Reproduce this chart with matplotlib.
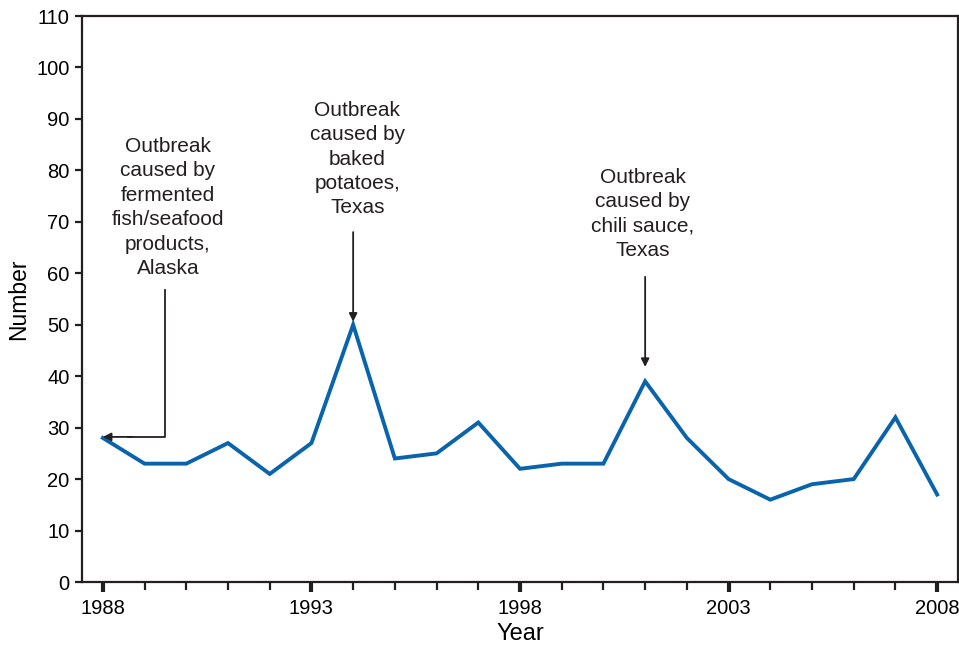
import matplotlib
matplotlib.use("Agg")
import matplotlib.pyplot as plt
from matplotlib.ticker import MultipleLocator

years = list(range(1988, 2009))
counts = [28, 23, 23, 27, 21, 27, 50, 24, 25, 31, 22, 23, 23, 39, 28, 20, 16, 19, 20, 32, 17]
major_years = [1988, 1993, 1998, 2003, 2008]
y_ticks = list(range(0, 111, 10))

plt.rcParams['font.family'] = ['Liberation Sans', 'DejaVu Sans']

fig = plt.figure(figsize=(9.59, 6.48), dpi=100)
ax = fig.add_axes([82/959, 66/648, 876/959, 566/648])

ax.plot(years, counts, color='#0a64ac', lw=2.8, solid_joinstyle='miter')

ax.set_xlim(1987.5, 2008.5)
ax.set_ylim(0, 110)
ax.set_xticks(major_years)
ax.xaxis.set_minor_locator(MultipleLocator(1))
ax.set_yticks(y_ticks)

for s in ax.spines.values():
    s.set_linewidth(1.6)
    s.set_color('#231f20')

ax.tick_params(axis='x', which='major', length=7, width=3, labelsize=14.5, color='#231f20', pad=5)
ax.tick_params(axis='x', which='minor', length=6, width=1.6, color='#231f20')
ax.tick_params(axis='y', which='major', length=5, width=1.6, labelsize=14.5, color='#231f20', pad=4)

ax.set_xlabel('Year', fontsize=17, labelpad=4)
ax.set_ylabel('Number', fontsize=16.5, labelpad=4)

akw = dict(ha='center', va='center', fontsize=15, linespacing=1.36, color='#231f20')
ax.text(1989.56, 72.8, 'Outbreak\ncaused by\nfermented\nfish/seafood\nproducts,\nAlaska', **akw)
ax.text(1994.1, 82.2, 'Outbreak\ncaused by\nbaked\npotatoes,\nTexas', **akw)
ax.text(2000.95, 71.5, 'Outbreak\ncaused by\nchili sauce,\nTexas', **akw)

# Alaska elbow arrow
ax.plot([1989.49, 1989.49, 1988.6], [56.7, 28.2, 28.2], color='#231f20', lw=1.3)
ax.annotate('', xy=(1988.0, 28.2), xytext=(1988.7, 28.2),
            arrowprops=dict(arrowstyle='-|>', color='#231f20', lw=1.3, mutation_scale=12,
                            shrinkA=0, shrinkB=0))
ax.annotate('', xy=(1994.0, 50.6), xytext=(1994.0, 68.0),
            arrowprops=dict(arrowstyle='-|>', color='#231f20', lw=1.3, mutation_scale=12,
                            shrinkA=0, shrinkB=0))
ax.annotate('', xy=(2001.0, 41.8), xytext=(2001.0, 59.3),
            arrowprops=dict(arrowstyle='-|>', color='#231f20', lw=1.3, mutation_scale=12,
                            shrinkA=0, shrinkB=0))

fig.savefig('out.png', dpi=100)
